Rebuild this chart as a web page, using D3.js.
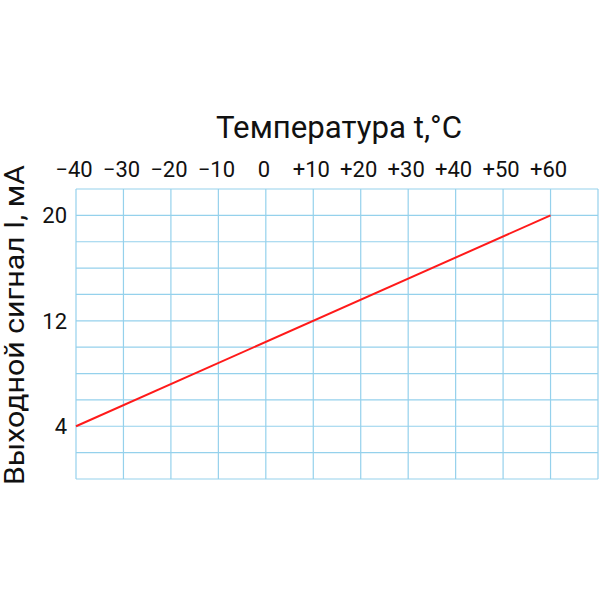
<!DOCTYPE html>
<html><head><meta charset="utf-8">
<script src="https://cdn.jsdelivr.net/npm/d3@7"></script>
<style>body{margin:0;background:#fff}</style>
</head><body>
<svg id="c" width="600" height="600"></svg>
<script>
const tempTicks = [-40,-30,-20,-10,0,10,20,30,40,50,60];
const tempLabels = ["\u221240","\u221230","\u221220","\u221210","0","+10","+20","+30","+40","+50","+60"];
const currentTicks = [20,12,4];
const lineTemp = [-40, 60];
const lineCurrent = [4, 20];
const xGrid = d3.range(-40, 71, 10);
const yGrid = d3.range(0, 23, 2);
const titleX = "Температура t,°C";
const titleY = "Выходной сигнал I, мА";

const font = "Roboto, 'Noto Sans', sans-serif";
const svg = d3.select("#c");
const x = d3.scaleLinear().domain([-40,70]).range([76,598]);
const y = d3.scaleLinear().domain([0,22]).range([479,189]);
const gridColor = "#95d1ec";

svg.append("g").selectAll("line").data(xGrid).join("line")
  .attr("x1", d=>x(d)).attr("x2", d=>x(d)).attr("y1", y(0)).attr("y2", y(22))
  .attr("stroke", gridColor).attr("stroke-width", 1.2);
svg.append("g").selectAll("line").data(yGrid).join("line")
  .attr("y1", d=>y(d)).attr("y2", d=>y(d)).attr("x1", x(-40)).attr("x2", x(70))
  .attr("stroke", gridColor).attr("stroke-width", 1.2);

svg.append("path")
  .datum(lineTemp.map((t,i)=>[t, lineCurrent[i]]))
  .attr("d", d3.line().x(d=>x(d[0])).y(d=>y(d[1])))
  .attr("stroke", "#ff1a1a").attr("stroke-width", 2).attr("fill","none");

svg.append("g").selectAll("text").data(tempTicks).join("text")
  .attr("x", d=>x(d) - 2).attr("y", 177)
  .attr("text-anchor","middle").attr("font-family", font).attr("font-size", 22)
  .attr("fill","#111")
  .text((d,i)=>tempLabels[i]);

svg.append("g").selectAll("text").data(currentTicks).join("text")
  .attr("x", 67).attr("y", d=>y(d)).attr("dy","0.36em")
  .attr("text-anchor","end").attr("font-family", font).attr("font-size", 22)
  .attr("fill","#111")
  .text(d=>d);

svg.append("text").attr("x", 216).attr("y", 138)
  .attr("font-family", font).attr("font-size", 32).attr("fill","#111")
  .attr("textLength", 246).attr("lengthAdjust","spacingAndGlyphs")
  .text(titleX);

svg.append("text").attr("transform","translate(24,485) rotate(-90)")
  .attr("font-family", font).attr("font-size", 27).attr("fill","#111")
  .attr("textLength", 320).attr("lengthAdjust","spacingAndGlyphs")
  .text(titleY);
</script>
</body></html>
